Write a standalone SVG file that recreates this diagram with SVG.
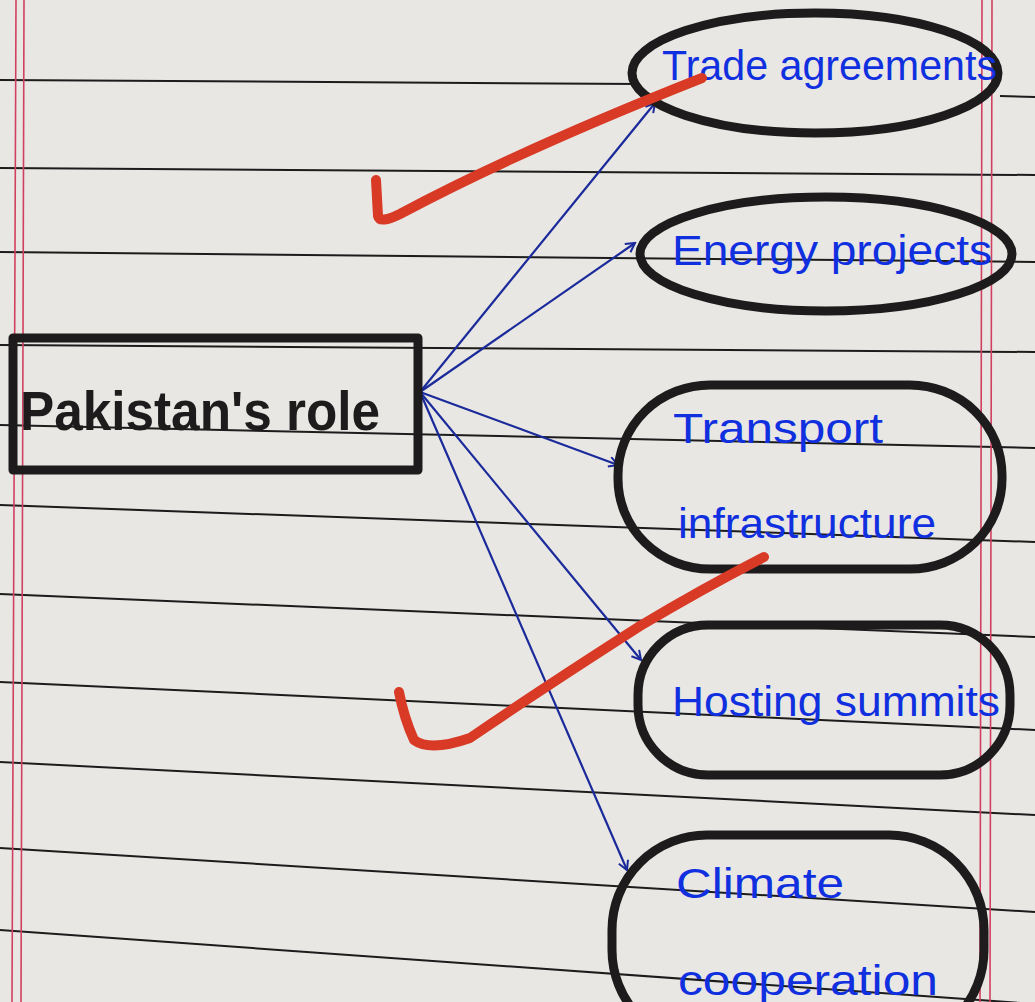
<svg xmlns="http://www.w3.org/2000/svg" width="1035" height="1002" viewBox="0 0 1035 1002">
<defs>
<style>
.rule{stroke:#1c1c1c;stroke-width:2;fill:none}
.margin{stroke:#d04060;stroke-width:1.6;fill:none}
.node{fill:none;stroke:#1e1b1c;stroke-width:9;stroke-linejoin:round}
.lbl{font-family:"Liberation Sans Narrow","Liberation Sans",sans-serif;fill:#1030e0;font-size:42px}
.title{font-family:"Liberation Sans Narrow","Liberation Sans",sans-serif;fill:#1e1b1c;font-size:56px;font-weight:bold}
.conn{stroke:#1a2a9a;stroke-width:2.2;fill:none}
.tick{stroke:#d83a26;stroke-width:10;fill:none;stroke-linecap:round;stroke-linejoin:round}
</style>
<marker id="ah" viewBox="0 0 12 12" refX="10" refY="6" markerWidth="12" markerHeight="12" markerUnits="userSpaceOnUse" orient="auto">
<path d="M1,1 L10,6 L1,11" fill="none" stroke="#1a2a9a" stroke-width="2"/>
</marker>
</defs>
<rect width="1035" height="1002" fill="#e9e7e4"/>
<g id="paper">
<path class="rule" d="M0,80 L640,84 M1000,96 L1035,97"/>
<path class="rule" d="M0,168 L1035,175"/>
<path class="rule" d="M0,252 L1035,262"/>
<path class="rule" d="M0,345 L1035,352"/>
<path class="rule" d="M0,425 L1035,448"/>
<path class="rule" d="M0,505 L1035,542"/>
<path class="rule" d="M0,594 L1035,637"/>
<path class="rule" d="M0,682 L1035,730"/>
<path class="rule" d="M0,762 L1035,815"/>
<path class="rule" d="M0,848 L1035,912"/>
<path class="rule" d="M0,930 L1035,1004"/>
<path class="margin" d="M16,0 L12,1002 M24,0 L21,1002"/>
<path class="margin" d="M982,0 L980,1002 M992,0 L990,1002"/>
</g>
<g id="connectors">
<path class="conn" marker-end="url(#ah)" d="M420,392 L655,103"/>
<path class="conn" marker-end="url(#ah)" d="M420,392 L635,243"/>
<path class="conn" marker-end="url(#ah)" d="M420,392 L618,465"/>
<path class="conn" marker-end="url(#ah)" d="M420,392 L641,660"/>
<path class="conn" marker-end="url(#ah)" d="M420,392 L627,870"/>
</g>
<g id="node-center">
<rect class="node" x="13" y="338" width="405" height="132"/>
<text class="title" x="20" y="430" textLength="360" lengthAdjust="spacingAndGlyphs">Pakistan's role</text>
</g>
<g id="node-trade">
<ellipse class="node" cx="815" cy="73" rx="183" ry="60"/>
<text class="lbl" x="662" y="80" textLength="335" lengthAdjust="spacingAndGlyphs">Trade agreements</text>
</g>
<g id="node-energy">
<ellipse class="node" cx="826" cy="254" rx="186" ry="57"/>
<text class="lbl" x="672" y="265" textLength="320" lengthAdjust="spacingAndGlyphs">Energy projects</text>
</g>
<g id="node-transport">
<rect class="node" x="618" y="385" width="384" height="184" rx="92" ry="90"/>
<text class="lbl" x="673" y="443" textLength="210" lengthAdjust="spacingAndGlyphs">Transport</text>
<text class="lbl" x="678" y="538" textLength="258" lengthAdjust="spacingAndGlyphs">infrastructure</text>
</g>
<g id="node-hosting">
<rect class="node" x="638" y="625" width="372" height="150" rx="70" ry="70"/>
<text class="lbl" x="672" y="716" textLength="328" lengthAdjust="spacingAndGlyphs">Hosting summits</text>
</g>
<g id="node-climate">
<rect class="node" x="612" y="835" width="372" height="210" rx="95" ry="95"/>
<text class="lbl" x="676" y="898" textLength="168" lengthAdjust="spacingAndGlyphs">Climate</text>
<text class="lbl" x="678" y="995" textLength="260" lengthAdjust="spacingAndGlyphs">cooperation</text>
</g>
<g id="marks">
<path class="tick" d="M376,180 L378,216 Q380,224 400,214 Q520,150 702,78"/>
<path class="tick" d="M399,692 Q404,718 414,740 Q430,752 470,738 Q540,690 640,626 Q700,590 764,557"/>
</g>
</svg>
